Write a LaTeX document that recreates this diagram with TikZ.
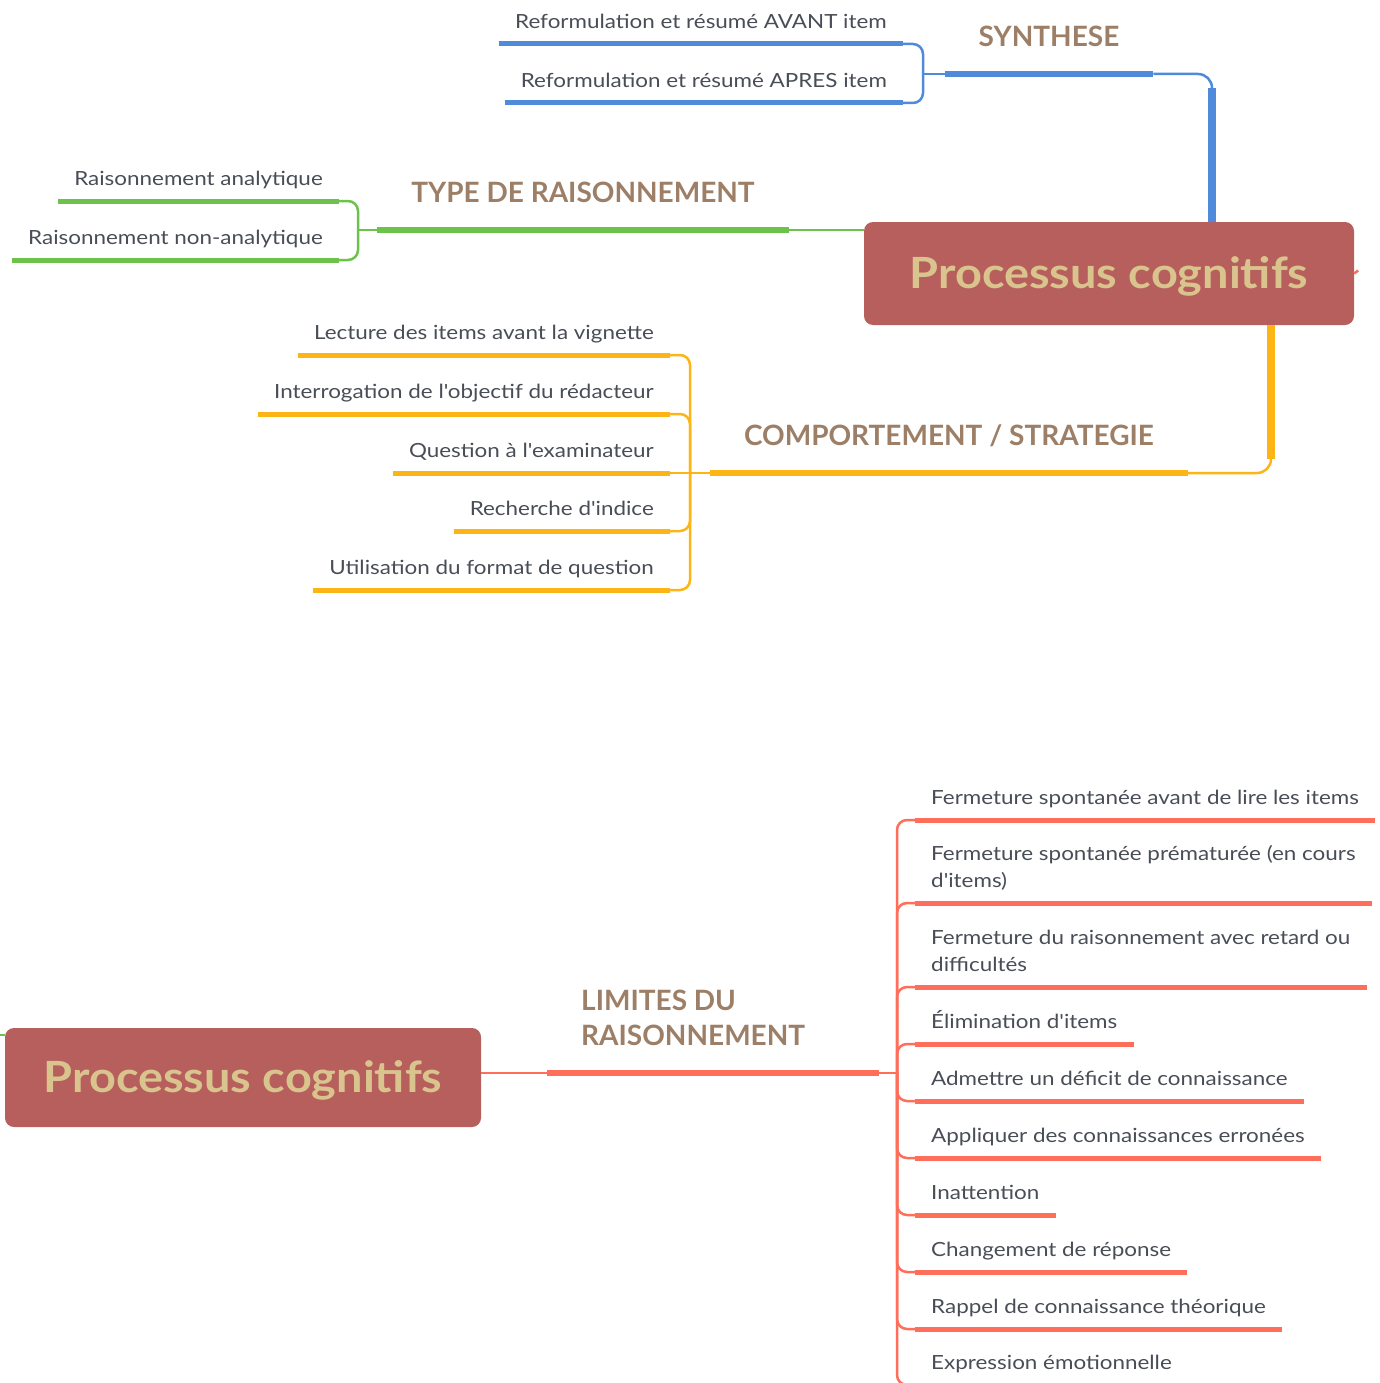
\documentclass[tikz,border=0pt]{standalone}
\usepackage{fontspec}
\setmainfont{Lato}
\newfontfamily\leaffont{Lato}[FakeStretch=1.15]
\newfontfamily\rootfont{Lato}[FakeStretch=1.09]
\definecolor{rootfill}{HTML}{B75F5D}
\definecolor{roottext}{HTML}{D9C48E}
\definecolor{labelbrown}{HTML}{9C7F66}
\definecolor{leaftext}{HTML}{484D56}
\definecolor{synblue}{HTML}{4F8ADB}
\definecolor{typegreen}{HTML}{6CC24A}
\definecolor{compyellow}{HTML}{FDB515}
\definecolor{limred}{HTML}{FF6E5B}
\tikzset{
  root/.style={fill=rootfill, text=roottext, rounded corners=9pt, inner sep=0pt,
    text height=30pt, text depth=0pt,
    font=\rootfont\fontsize{43}{50}\selectfont\bfseries},
  branch/.style={text=labelbrown, inner xsep=34pt, inner ysep=27pt, text depth=0pt,
    font=\fontsize{28}{35}\selectfont\bfseries,
    append after command={(\tikzlastnode.south west) edge[draw=#1, line width=5.5pt] (\tikzlastnode.south east)}},
  leaf/.style={text=leaftext, inner xsep=16pt, inner ysep=15pt, text depth=0pt,
    font=\leaffont\fontsize{19.5}{27}\selectfont,
    append after command={(\tikzlastnode.south west) edge[draw=#1, line width=5pt] (\tikzlastnode.south east)}},
  link/.style={draw=#1, line width=2.5pt, rounded corners=10pt},
  trunk/.style={draw=#1, line width=8pt}
}
\begin{document}
\begin{tikzpicture}[x=1pt, y=-1pt]
\useasboundingbox (0,0) rectangle (1380,1383);

\node[root, minimum width=490pt, minimum height=103pt] (top) at (1109,273.5) {Processus cognitifs};
\node[root, minimum width=476pt, minimum height=99pt] (bot) at (243,1077.5) {Processus cognitifs};

\node[branch=synblue, anchor=south] (syn) at (1049,74) {SYNTHESE};
\node[branch=typegreen, anchor=south] (type) at (583,230) {TYPE DE RAISONNEMENT};
\node[branch=compyellow, anchor=south] (comp) at (949,473) {COMPORTEMENT / STRATEGIE};
\node[branch=limred, anchor=south west, align=left] (lim) at (547,1073) {LIMITES DU\\RAISONNEMENT\hspace*{40pt}};

\node[leaf=synblue, anchor=south east] (syn1) at (903,44) {Reformulation et résumé AVANT item};
\node[leaf=synblue, anchor=south east] (syn2) at (903,103) {Reformulation et résumé APRES item};

\node[leaf=typegreen, anchor=south east] (type1) at (339,201) {Raisonnement analytique};
\node[leaf=typegreen, anchor=south east] (type2) at (339,260) {Raisonnement non-analytique};

\node[leaf=compyellow, anchor=south east] (comp1) at (670,355) {Lecture des items avant la vignette};
\node[leaf=compyellow, anchor=south east] (comp2) at (670,414) {Interrogation de l'objectif du rédacteur};
\node[leaf=compyellow, anchor=south east] (comp3) at (670,473) {Question à l'examinateur};
\node[leaf=compyellow, anchor=south east] (comp4) at (670,531) {Recherche d'indice};
\node[leaf=compyellow, anchor=south east] (comp5) at (670,590) {Utilisation du format de question};

\node[leaf=limred, anchor=south west] (lim1) at (915,820) {Fermeture spontanée avant de lire les items};
\node[leaf=limred, anchor=south west, align=left] (lim2) at (915,903) {Fermeture spontanée prématurée (en cours\\d'items)};
\node[leaf=limred, anchor=south west, align=left] (lim3) at (915,987) {Fermeture du raisonnement avec retard ou\\difficultés};
\node[leaf=limred, anchor=south west] (lim4) at (915,1044) {Élimination d'items};
\node[leaf=limred, anchor=south west] (lim5) at (915,1101) {Admettre un déficit de connaissance};
\node[leaf=limred, anchor=south west] (lim6) at (915,1158) {Appliquer des connaissances erronées};
\node[leaf=limred, anchor=south west] (lim7) at (915,1215) {Inattention};
\node[leaf=limred, anchor=south west] (lim8) at (915,1272) {Changement de réponse};
\node[leaf=limred, anchor=south west] (lim9) at (915,1329) {Rappel de connaissance théorique};
\node[leaf=limred, anchor=south west] (lim10) at (915,1385) {Expression émotionnelle};

\coordinate (synroot) at (1212,222);
\coordinate (comproot) at (1271,325);
\coordinate (synj) at (923,74);
\coordinate (typej) at (358,230);
\coordinate (compj) at (690,473);
\coordinate (limj) at (897,1073);

\draw[link=synblue, rounded corners=14pt] (synroot) |- (syn.south east);
\draw[trunk=synblue] (synroot) -- (1212,88);
\draw[link=synblue] (syn.south west) -- (synj);
\draw[link=synblue] (synj) |- (syn1.south east);
\draw[link=synblue] (synj) |- (syn2.south east);

\draw[link=typegreen] (top.west |- type.south east) -- (type.south east);
\draw[link=typegreen] (type.south west) -- (typej);
\draw[link=typegreen] (typej) |- (type1.south east);
\draw[link=typegreen] (typej) |- (type2.south east);

\draw[link=compyellow, rounded corners=14pt] (comproot) |- (comp.south east);
\draw[trunk=compyellow] (comproot) -- (1271,459);
\draw[link=compyellow] (comp.south west) -- (compj);
\draw[link=compyellow] (compj) |- (comp1.south east);
\draw[link=compyellow] (compj) |- (comp2.south east);
\draw[link=compyellow] (compj) -- (comp3.south east);
\draw[link=compyellow] (compj) |- (comp4.south east);
\draw[link=compyellow] (compj) |- (comp5.south east);

\draw[link=limred] (bot.east |- lim.south west) -- (lim.south west);
\draw[link=limred] (lim.south east) -- (limj);
\draw[link=limred] (limj) |- (lim1.south west);
\draw[link=limred] (limj) |- (lim2.south west);
\draw[link=limred] (limj) |- (lim3.south west);
\draw[link=limred] (limj) |- (lim4.south west);
\draw[link=limred] (limj) |- (lim5.south west);
\draw[link=limred] (limj) |- (lim6.south west);
\draw[link=limred] (limj) |- (lim7.south west);
\draw[link=limred] (limj) |- (lim8.south west);
\draw[link=limred] (limj) |- (lim9.south west);
\draw[link=limred] (limj) |- (lim10.south west);

\draw[link=limred] (top.east) -- ++(4,-3);
\draw[link=typegreen] (bot.west |- 0,1035) -- (0,1035);
\end{tikzpicture}
\end{document}
